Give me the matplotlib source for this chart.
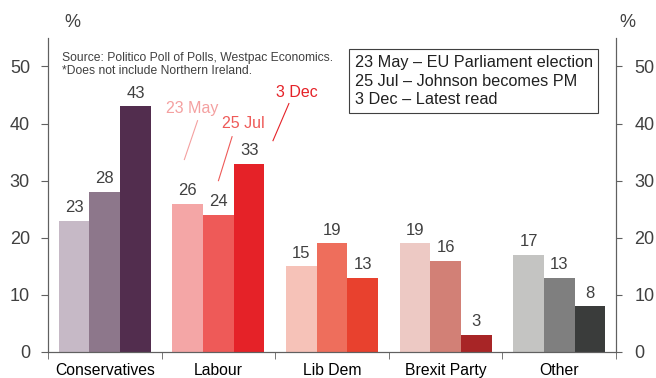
import numpy as np
from matplotlib import pyplot as plt

plt.rcParams['font.family'] = ['Liberation Sans', 'DejaVu Sans']

parties = ['Conservatives', 'Labour', 'Lib Dem', 'Brexit Party', 'Other']
may23 = [23, 26, 15, 19, 17]
jul25 = [28, 24, 19, 16, 13]
dec3 = [43, 33, 13, 3, 8]

colours = [
    ['#C6B9C6', '#8D778B', '#522D4E'],
    ['#F4A6A6', '#EE5A58', '#E52228'],
    ['#F6C2B8', '#EE6E5C', '#E8412E'],
    ['#EDC9C4', '#D28076', '#A82526'],
    ['#C4C4C2', '#7F7F7F', '#3A3C3B'],
]

text_col = '#404040'
axis_col = '#606060'

fig = plt.figure(figsize=(6.56, 3.78), dpi=100)
ax = fig.add_axes([0.0732, 0.0688, 0.866, 0.831])

x = np.arange(len(parties))
w = 0.27
for i, series in enumerate([may23, jul25, dec3]):
    for j, v in enumerate(series):
        xpos = x[j] + (i - 1) * w
        ax.bar(xpos, v, width=w, color=colours[j][i])
        ax.text(xpos, v + 1.0, str(v), ha='center', va='bottom',
                fontsize=12, color=text_col)

ax.set_xlim(-0.5, 4.5)
ax.set_ylim(0, 55)
ax.set_yticks([0, 10, 20, 30, 40, 50])
ax.set_xticks(x)
ax.set_xticklabels(parties, fontsize=11.3, color='black')
ax.tick_params(axis='x', length=0, pad=8)
ax.set_xticks(np.arange(-0.5, 5, 1), minor=True)
ax.tick_params(axis='x', which='minor', direction='out', length=5, color=axis_col)
ax.tick_params(axis='y', labelsize=13, labelcolor=text_col, length=5,
               color=axis_col, pad=8)
ax.spines['top'].set_visible(False)
for s in ['left', 'right', 'bottom']:
    ax.spines[s].set_color(axis_col)

ax2 = ax.twinx()
ax2.set_ylim(0, 55)
ax2.set_yticks([0, 10, 20, 30, 40, 50])
ax2.tick_params(axis='y', labelsize=13, labelcolor=text_col, length=4,
                color=axis_col, pad=9)
ax2.spines['top'].set_visible(False)
for s in ['left', 'right', 'bottom']:
    ax2.spines[s].set_color(axis_col)

fig.text(0.11, 0.94, '%', fontsize=13, color=text_col, ha='center', va='center')
fig.text(0.956, 0.94, '%', fontsize=13, color=text_col, ha='center', va='center')

ax2.text(-0.38, 52.5, 'Source: Politico Poll of Polls, Westpac Economics.\n*Does not include Northern Ireland.',
         fontsize=8.7, color=text_col, va='top', ha='left', linespacing=1.1)

ax2.text(2.2, 52.0, '23 May \u2013 EU Parliament election\n25 Jul \u2013 Johnson becomes PM\n3 Dec \u2013 Latest read',
         fontsize=11.7, color='#202020', va='top', ha='left', linespacing=1.3,
         bbox=dict(boxstyle='square,pad=0.35', fc='white', ec='#404040', lw=0.8))

# annotations for dates
ax2.text(0.77, 42.6, '23 May', color='#F4A0A0', fontsize=11.5, ha='center', va='center')
ax2.plot([0.816, 0.70], [40.5, 33.7], color='#F4A0A0', lw=0.8)
ax2.text(1.22, 40.0, '25 Jul', color='#EE5A58', fontsize=11.5, ha='center', va='center')
ax2.plot([1.12, 1.0], [37.7, 30.0], color='#EE5A58', lw=0.8)
ax2.text(1.69, 45.4, '3 Dec', color='#E52228', fontsize=11.5, ha='center', va='center')
ax2.plot([1.62, 1.48], [43.5, 37.0], color='#E52228', lw=0.8)

plt.savefig('out.png', dpi=100)
